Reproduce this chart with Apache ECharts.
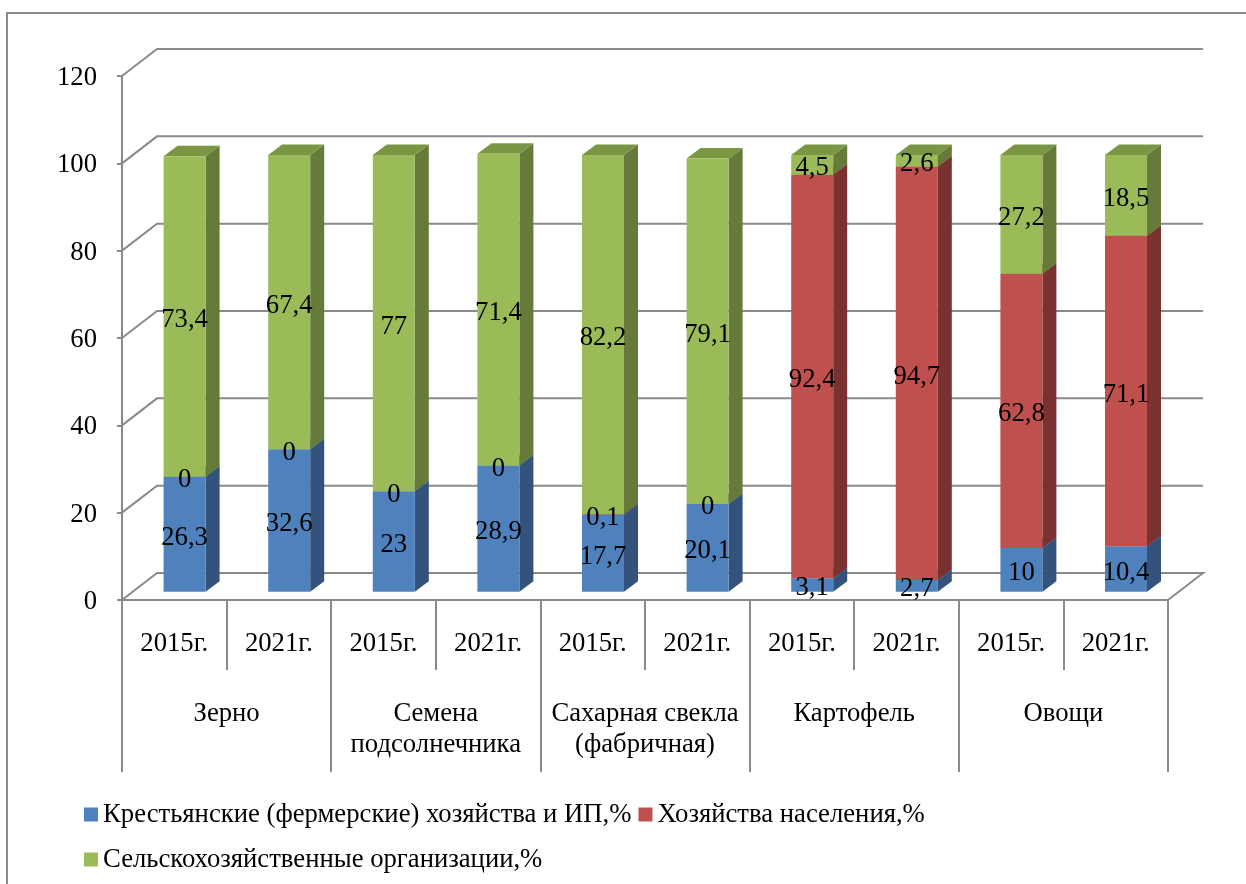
<!DOCTYPE html>
<html>
<head>
<meta charset="utf-8">
<title>Структура производства</title>
<script src="https://cdn.jsdelivr.net/npm/echarts@6/dist/echarts.min.js"></script>
<style>
  html, body { margin: 0; padding: 0; background: #fff; overflow: hidden; }
  #chart { width: 1246px; height: 884px; }
</style>
</head>
<body>
<div id="chart"></div>
<script>
const years = ["2015г.", "2021г.", "2015г.", "2021г.", "2015г.", "2021г.", "2015г.", "2021г.", "2015г.", "2021г."];
const groups = ["Зерно", "Семена\nподсолнечника", "Сахарная свекла\n(фабричная)", "Картофель", "Овощи"];
const farmers = [26.3, 32.6, 23, 28.9, 17.7, 20.1, 3.1, 2.7, 10, 10.4];
const households = [0, 0, 0, 0, 0.1, 0, 92.4, 94.7, 62.8, 71.1];
const organizations = [73.4, 67.4, 77, 71.4, 82.2, 79.1, 4.5, 2.6, 27.2, 18.5];
const yTicks = [0, 20, 40, 60, 80, 100, 120];

const FARMERS_NAME = "Крестьянские (фермерские) хозяйства и ИП,%";
const HOUSEHOLDS_NAME = "Хозяйства населения,%";
const ORGS_NAME = "Сельскохозяйственные организации,%";

const FONT = '"Liberation Serif", "Times New Roman", serif';
const FONT_SIZE = 26.7;
const AXIS_COLOR = "#8a8a8a";
// 3D look: wall depth and bar depth, in px
const WALL_DX = 35, WALL_DY = -27;
const BAR_W = 42, BAR_DX = 14, BAR_DY = -10.5;
const BAR_SHIFT_X = 10.3, BAR_SHIFT_Y = -8.3;

const chart = echarts.init(document.getElementById("chart"));

// grid lines on the side and back walls, plus the y tick labels
function renderWall(params, api) {
  const rect = params.coordSys;
  const v = api.value(1);
  const y = api.coord([0, v])[1];
  const x0 = rect.x, x1 = rect.x + rect.width;
  const pts = [[x0, y], [x0 + WALL_DX, y + WALL_DY], [x1 + WALL_DX, y + WALL_DY]];
  if (v === 0) pts.push([x1, y]);
  return {
    type: "group",
    children: [
      {
        type: "polyline",
        shape: { points: pts },
        style: { stroke: AXIS_COLOR, lineWidth: 2, fill: null },
      },
      {
        type: "text",
        style: {
          text: String(v),
          x: x0 - 25,
          y: y + 2,
          fill: "#000",
          fontSize: FONT_SIZE,
          fontFamily: FONT,
          align: "right",
          verticalAlign: "middle",
        },
      },
    ],
  };
}

function stackRenderer(front, side, top) {
  return function (params, api) {
    const i = api.value(0);
    const from = api.value(1), to = api.value(2), value = api.value(3);
    const cx = api.coord([i, 0])[0] + BAR_SHIFT_X;
    const yb = api.coord([i, from])[1] + BAR_SHIFT_Y;
    const yt = api.coord([i, to])[1] + BAR_SHIFT_Y;
    const xl = cx - BAR_W / 2, xr = cx + BAR_W / 2;
    const children = [];
    if (value > 0) {
      children.push({
        type: "polygon",
        shape: { points: [[xr, yb], [xr + BAR_DX, yb + BAR_DY], [xr + BAR_DX, yt + BAR_DY], [xr, yt]] },
        style: { fill: side },
      });
      children.push({
        type: "polygon",
        shape: { points: [[xl, yt], [xr, yt], [xr + BAR_DX, yt + BAR_DY], [xl + BAR_DX, yt + BAR_DY]] },
        style: { fill: top },
      });
      children.push({
        type: "rect",
        shape: { x: xl, y: yt, width: BAR_W, height: yb - yt },
        style: { fill: front },
      });
    }
    children.push({
      type: "text",
      z2: 100,
      style: {
        text: String(value).replace(".", ","),
        x: cx,
        y: (yb + yt) / 2 + 3.5,
        fill: "#000",
        fontSize: FONT_SIZE,
        fontFamily: FONT,
        align: "center",
        verticalAlign: "middle",
      },
    });
    return { type: "group", children };
  };
}

function stackSeries(name, values, bases, front, side, top) {
  return {
    name,
    type: "custom",
    z: 2,
    itemStyle: { color: front },
    encode: { x: 0, y: 2 },
    data: values.map((v, i) => [i, bases[i], +(bases[i] + v).toFixed(1), v]),
    renderItem: stackRenderer(front, side, top),
  };
}

const base2 = farmers;
const base3 = farmers.map((v, i) => v + households[i]);

const option = {
  backgroundColor: "#fff",
  animation: false,
  textStyle: { fontFamily: FONT },
  grid: { left: 122, right: 78, top: 76, bottom: 284, containLabel: false },
  graphic: [
    {
      type: "polyline",
      shape: { points: [[7, 900], [7, 13], [1300, 13]] },
      style: { stroke: AXIS_COLOR, lineWidth: 2, fill: null },
    },
  ],
  legend: [
    {
      data: [FARMERS_NAME, HOUSEHOLDS_NAME],
      left: 84,
      top: 801,
      icon: "rect",
      itemWidth: 14,
      itemHeight: 14,
      itemGap: 7,
      selectedMode: false,
      padding: 0,
      textStyle: { color: "#000", fontSize: FONT_SIZE, fontFamily: FONT },
    },
    {
      data: [ORGS_NAME],
      left: 84,
      top: 846,
      icon: "rect",
      itemWidth: 14,
      itemHeight: 14,
      selectedMode: false,
      padding: 0,
      textStyle: { color: "#000", fontSize: FONT_SIZE, fontFamily: FONT },
    },
  ],
  xAxis: [
    {
      type: "category",
      position: "bottom",
      data: years,
      axisLine: { lineStyle: { color: AXIS_COLOR, width: 2 } },
      axisTick: { show: true, length: 70, interval: 0, lineStyle: { color: AXIS_COLOR, width: 2 } },
      axisLabel: { interval: 0, margin: 30, color: "#000", fontSize: FONT_SIZE, fontFamily: FONT },
    },
    {
      type: "category",
      position: "bottom",
      data: groups,
      axisLine: { show: false },
      axisTick: { show: true, length: 172, interval: 0, lineStyle: { color: AXIS_COLOR, width: 2 } },
      axisLabel: { interval: 0, margin: 98, lineHeight: 31, color: "#000", fontSize: FONT_SIZE, fontFamily: FONT, verticalAlign: "top" },
    },
  ],
  yAxis: {
    type: "value",
    min: 0,
    max: 120,
    interval: 20,
    axisLine: { show: true, lineStyle: { color: AXIS_COLOR, width: 2 } },
    axisTick: { show: true, length: 5, lineStyle: { color: AXIS_COLOR, width: 2 } },
    axisLabel: { show: false },
    splitLine: { show: false },
  },
  series: [
    {
      type: "custom",
      z: 1,
      silent: true,
      data: yTicks.map((v) => [0, v]),
      renderItem: renderWall,
    },
    stackSeries(FARMERS_NAME, farmers, farmers.map(() => 0), "#4f81bd", "#33537c", "#3f6797"),
    stackSeries(HOUSEHOLDS_NAME, households, base2, "#c0504d", "#7a3230", "#9a403e"),
    stackSeries(ORGS_NAME, organizations, base3, "#9bbb59", "#667a39", "#7b9642"),
  ],
};

chart.setOption(option);
</script>
</body>
</html>
